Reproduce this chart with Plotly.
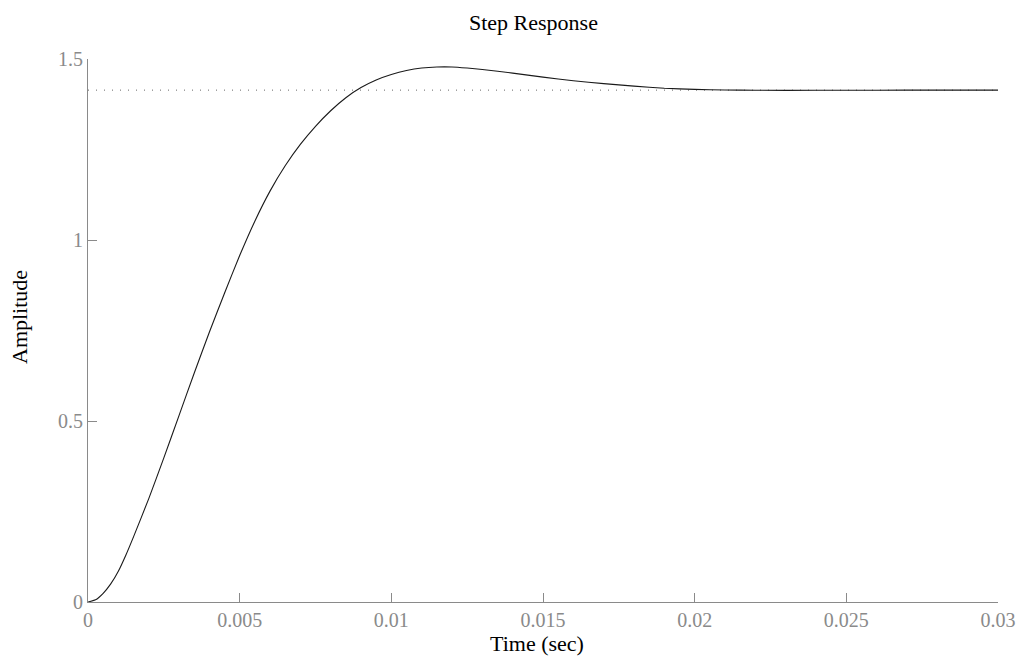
import plotly.graph_objects as go

# Values
time_s = [0, 0.00025, 0.0005, 0.00075, 0.001, 0.00125, 0.0015, 0.002, 0.0025,
          0.003, 0.0035, 0.004, 0.0045, 0.005, 0.0055, 0.006, 0.0065, 0.007,
          0.0075, 0.008, 0.0085, 0.009, 0.0095, 0.010, 0.0105, 0.011, 0.0115,
          0.012, 0.0125, 0.013, 0.014, 0.015, 0.016, 0.017, 0.018, 0.019,
          0.020, 0.021, 0.022, 0.024, 0.026, 0.028, 0.030]
amplitude = [0, 0.006, 0.024, 0.050, 0.085, 0.130, 0.18, 0.285, 0.398,
             0.515, 0.632, 0.745, 0.853, 0.957, 1.052, 1.135, 1.205, 1.264,
             1.314, 1.357, 1.393, 1.421, 1.442, 1.457, 1.468, 1.475, 1.478,
             1.478, 1.475, 1.471, 1.461, 1.450, 1.440, 1.432, 1.425, 1.419,
             1.416, 1.4145, 1.4135, 1.4135, 1.4138, 1.414, 1.414]
final_value = 1.414
x_ticks = [0, 0.005, 0.01, 0.015, 0.02, 0.025, 0.03]
x_tick_text = ["0", "0.005", "0.01", "0.015", "0.02", "0.025", "0.03"]
y_ticks = [0, 0.5, 1, 1.5]
y_tick_text = ["0", "0.5", "1", "1.5"]

FONT = "Liberation Serif, Times New Roman, serif"
GRAY = "#8a8a8a"

# plot area in pixels: x 88..998, y 59..602
L, R, T, B = 88, 998, 59, 602
def px(x):
    return (x - L) / (R - L)
def py(y):
    return (B - y) / (B - T)

fig = go.Figure()
fig.add_trace(go.Scatter(
    x=[time_s[0], time_s[-1]], y=[final_value, final_value], mode="lines",
    line=dict(color="#666666", width=1, dash="1px,7px"),
    hoverinfo="skip", showlegend=False))
fig.add_trace(go.Scatter(
    x=time_s, y=amplitude, mode="lines",
    line=dict(color="#1a1a1a", width=1.1, shape="spline", smoothing=0.5),
    showlegend=False))

fig.update_layout(
    width=1021, height=657,
    margin=dict(l=L, r=1021 - R, t=T, b=657 - B, autoexpand=False),
    paper_bgcolor="white", plot_bgcolor="white",
    font=dict(family=FONT, size=22, color="black"),
    showlegend=False,
    annotations=[
        dict(text="Step Response", xref="paper", yref="paper",
             x=px(533), y=py(22), xanchor="center", yanchor="middle",
             showarrow=False, font=dict(family=FONT, size=22, color="black")),
        dict(text="Time (sec)", xref="paper", yref="paper",
             x=px(537), y=py(643), xanchor="center", yanchor="middle",
             showarrow=False, font=dict(family=FONT, size=22, color="black")),
        dict(text="Amplitude", xref="paper", yref="paper",
             x=px(19), y=py(317), xanchor="center", yanchor="middle",
             textangle=-90, showarrow=False,
             font=dict(family=FONT, size=22, color="black")),
    ],
)
fig.update_xaxes(
    range=[0, 0.03], tickvals=x_ticks, ticktext=x_tick_text,
    ticks="inside", ticklen=9, tickcolor=GRAY, tickwidth=1,
    showline=True, linecolor=GRAY, linewidth=1, mirror=False,
    showgrid=False, zeroline=False,
    tickfont=dict(family=FONT, size=20, color=GRAY),
)
fig.update_yaxes(
    range=[0, 1.5], tickvals=y_ticks, ticktext=y_tick_text,
    ticks="inside", ticklen=9, tickcolor=GRAY, tickwidth=1,
    showline=True, linecolor=GRAY, linewidth=1, mirror=False,
    showgrid=False, zeroline=False,
    tickfont=dict(family=FONT, size=20, color=GRAY),
)

fig.write_html("out.html", config={"displayModeBar": False},
               post_script="document.body.style.margin='0';")
